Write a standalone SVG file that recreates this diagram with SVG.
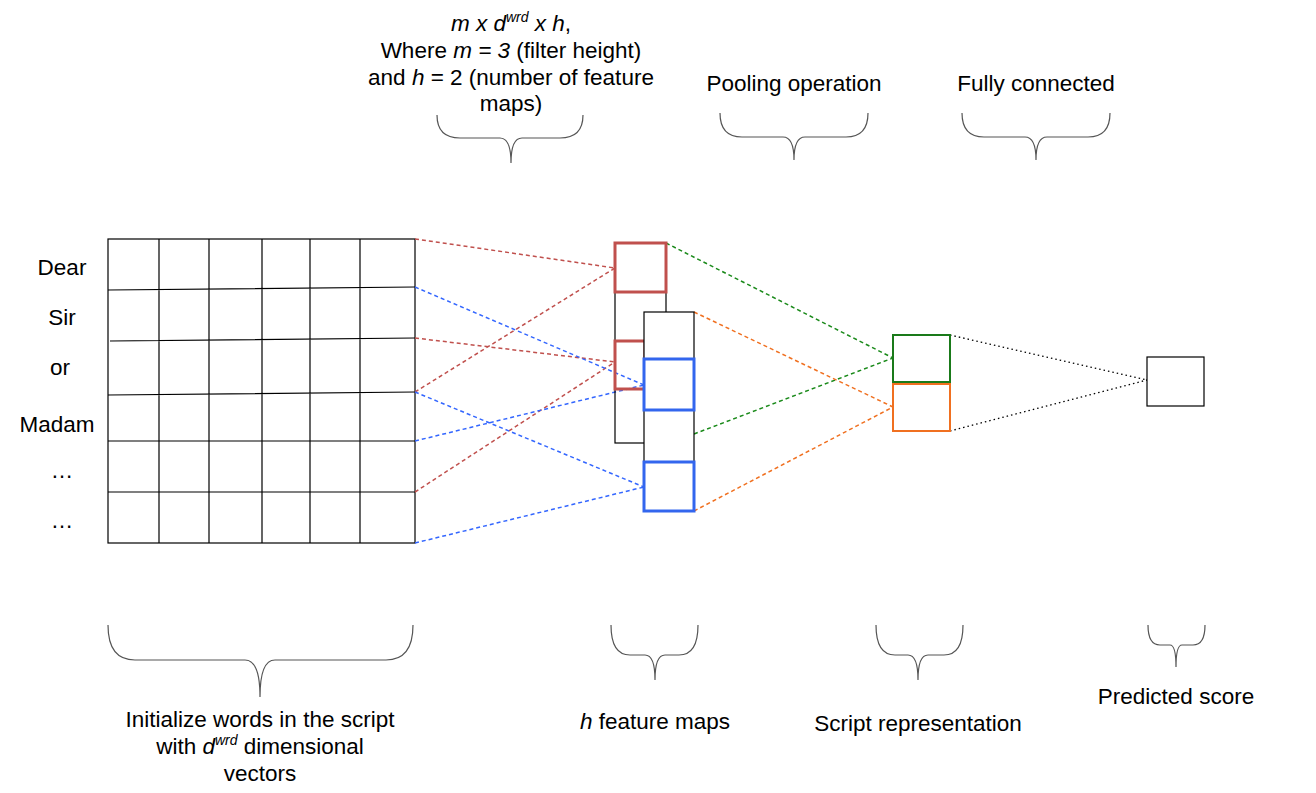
<svg xmlns="http://www.w3.org/2000/svg" width="1316" height="793" viewBox="0 0 1316 793">
<style>
text{font-family:"Liberation Sans",Arial,sans-serif;font-size:22.5px;fill:#000;text-anchor:middle}
.s{font-size:14px;font-style:italic}
.g{fill:none;stroke:#000;stroke-width:1.2}
.b{fill:none;stroke:#555;stroke-width:1.2}
.d{fill:none;stroke-width:1.5;stroke-dasharray:4 3}
</style>
<rect width="1316" height="793" fill="#fff"/>
<g id="grid">
<rect x="108" y="239" width="307" height="304" class="g"/>
<path class="g" d="M159 239V543M209 239V543M262 239V543M310 239V543M360 239V543M108 290L415 287M110 341L415 338M108 395L415 392M108 441H415M108 492H415"/>
</g>
<g id="words">
<text x="62" y="275">Dear</text><text x="62" y="325">Sir</text><text x="60" y="375">or</text><text x="57" y="432">Madam</text><text x="62" y="478">…</text><text x="62" y="528">…</text>
</g>
<g id="connectors">
<path class="d" stroke="#c0504d" d="M415 239L615 268M415 338L615 362M415 392L615 268M415 492L615 362"/>
<path class="d" stroke="#3366ff" d="M415 287L644 385M415 441L644 385M415 392L644 487M415 543L644 487"/>
<path class="d" stroke="#1a8a1a" d="M666 243L893 358M694 434L893 358"/>
<path class="d" stroke="#f07020" d="M694 312L893 407M694 511L893 407"/>
<path fill="none" stroke="#000" stroke-width="1.3" stroke-dasharray="1.5 3" d="M950 335L1147 380M950 431L1147 380"/>
</g>
<g id="map1">
<rect x="615" y="243" width="51" height="200" class="g"/>
<rect x="615" y="243" width="51" height="49" fill="#fff" stroke="#c0504d" stroke-width="3"/>
<rect x="615" y="341" width="30" height="48" fill="none" stroke="#c0504d" stroke-width="3"/>
</g>
<g id="map2">
<rect x="644" y="312" width="50" height="199" fill="#fff" stroke="#000" stroke-width="1.2"/>
<rect x="644" y="359" width="50" height="51" fill="#fff" stroke="#3366ee" stroke-width="3"/>
<rect x="644" y="462" width="50" height="49" fill="#fff" stroke="#3366ee" stroke-width="3"/>
</g>
<g id="pool">
<rect x="893" y="335" width="57" height="47" fill="#fff" stroke="#1a7a1a" stroke-width="2"/>
<rect x="893" y="384" width="57" height="47" fill="#fff" stroke="#f07020" stroke-width="2"/>
</g>
<g id="score"><rect x="1147" y="357" width="57" height="49" fill="#fff" stroke="#000" stroke-width="1.2"/></g>
<g id="braces">
<path class="b" d="M437 115Q437 138 460 138H500Q511 138 511 163Q511 138 522 138H560Q583 138 583 115"/>
<path class="b" d="M720 113Q720 137 742 137H783Q794 137 794 160Q794 137 805 137H846Q868 137 868 113"/>
<path class="b" d="M962 113Q962 137 984 137H1025Q1036 137 1036 160Q1036 137 1047 137H1088Q1110 137 1110 113"/>
<path class="b" d="M108 625Q108 660 135 660H245Q260 660 260 697Q260 660 275 660H386Q413 660 413 625"/>
<path class="b" d="M611 625Q611 655 630 655H645Q655 655 655 680Q655 655 665 655H679Q698 655 698 625"/>
<path class="b" d="M876 625Q876 655 895 655H908Q918 655 918 680Q918 655 928 655H944Q963 655 963 625"/>
<path class="b" d="M1148 625Q1148 645 1160 645H1170Q1176 645 1176 667Q1176 645 1182 645H1193Q1205 645 1205 625"/>
</g>
<g id="labels">
<text x="511" y="31"><tspan font-style="italic">m x d</tspan><tspan class="s" dy="-9">wrd</tspan><tspan font-style="italic" dy="9"> x h</tspan>,</text>
<text x="511" y="58">Where <tspan font-style="italic">m = 3</tspan> (filter height)</text>
<text x="511" y="85">and <tspan font-style="italic">h</tspan> = 2 (number of feature</text>
<text x="511" y="111">maps)</text>
<text x="794" y="91">Pooling operation</text>
<text x="1036" y="91">Fully connected</text>
<text x="260" y="727">Initialize words in the script</text>
<text x="260" y="754">with <tspan font-style="italic">d</tspan><tspan class="s" dy="-9">wrd</tspan><tspan dy="9"> dimensional</tspan></text>
<text x="260" y="781">vectors</text>
<text x="655" y="729"><tspan font-style="italic">h</tspan> feature maps</text>
<text x="918" y="731">Script representation</text>
<text x="1176" y="704">Predicted score</text>
</g>
</svg>
